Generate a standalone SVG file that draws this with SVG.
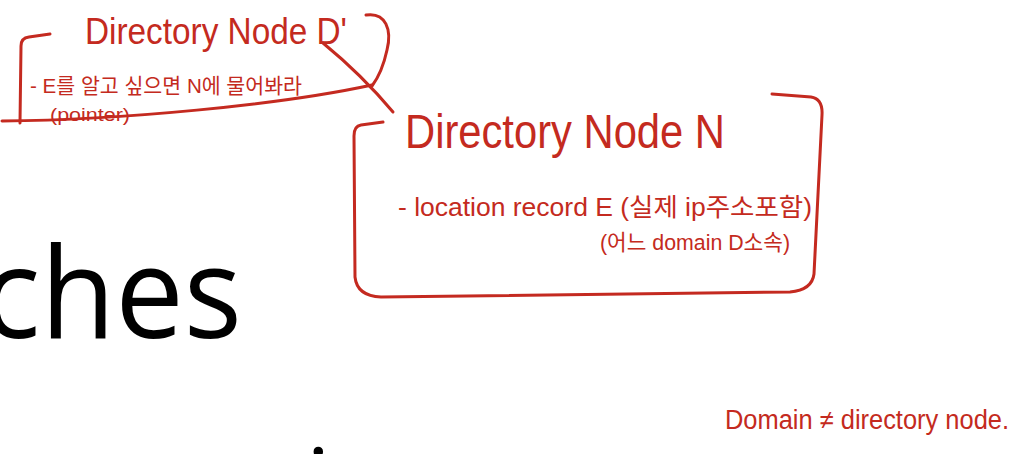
<svg xmlns="http://www.w3.org/2000/svg" width="1032" height="454" viewBox="0 0 1032 454">
<style>
.ink{fill:none;stroke:#c42a20;stroke-width:3;stroke-linecap:round;stroke-linejoin:round}
.hw{fill:#c42a20;font-family:"Liberation Sans","Noto Sans CJK KR",sans-serif}
.slide{fill:#000;font-family:"Open Sans","Liberation Sans",sans-serif}
</style>
<rect width="1032" height="454" fill="#fff"/>
<g id="slide-text">
<text class="slide" x="-18" y="338" font-size="126" textLength="260" lengthAdjust="spacingAndGlyphs">ches</text>
<text class="slide" x="162 214 280 306 339 366" y="518" font-size="97">entity</text>
</g>
<g id="node-d-prime">
<path class="ink" d="M50,34 L29,37 Q21,38 21,46 L20,123"/>
<path class="ink" d="M2,121 C120,120 280,105 372,85"/>
<path class="ink" d="M366,15 C386,12 392,30 387,50 C384,64 378,78 372,86"/>
<text class="hw" x="85" y="44" font-size="36" textLength="262" lengthAdjust="spacingAndGlyphs">Directory Node D'</text>
<text class="hw" x="30" y="93" font-size="21" textLength="272" lengthAdjust="spacingAndGlyphs">- E를 알고 싶으면 N에 물어봐라</text>
<text class="hw" x="50" y="121" font-size="18" textLength="80" lengthAdjust="spacingAndGlyphs">(pointer)</text>
</g>
<g id="connectors">
<path class="ink" d="M323,43 Q362,75 393,112"/>
</g>
<g id="node-n">
<path class="ink" d="M383,122 L361,125 Q354,126 354,136 L355,277 Q357,296 381,297 L790,292 Q812,290 814,274 L822,115 Q823,99 811,97 L772,94"/>
<text class="hw" x="405" y="148" font-size="48" textLength="320" lengthAdjust="spacingAndGlyphs">Directory Node N</text>
<text class="hw" x="398" y="216" font-size="25" textLength="414" lengthAdjust="spacingAndGlyphs">- location record E (실제 ip주소포함)</text>
<text class="hw" x="600" y="250" font-size="22" textLength="190" lengthAdjust="spacingAndGlyphs">(어느 domain D소속)</text>
</g>
<g id="note">
<text class="hw" x="725" y="429" font-size="27" textLength="284" lengthAdjust="spacingAndGlyphs">Domain ≠ directory node.</text>
</g>
</svg>
